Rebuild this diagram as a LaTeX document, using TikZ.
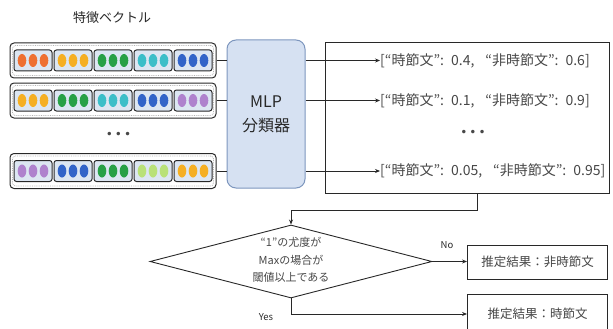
\documentclass[tikz,border=0pt]{standalone}
\usepackage{fontspec}
\setmainfont{Noto Sans CJK JP}
\newfontfamily\dvfont{DejaVu Sans}
\usetikzlibrary{shapes.geometric,arrows.meta}
\definecolor{dorange}{RGB}{238,112,50}
\definecolor{dyellow}{RGB}{245,175,35}
\definecolor{dgreen}{RGB}{40,160,70}
\definecolor{dteal}{RGB}{60,190,200}
\definecolor{dblue}{RGB}{50,100,200}
\definecolor{dpurple}{RGB}{175,130,205}
\definecolor{dlgreen}{RGB}{185,225,120}
\definecolor{cellfill}{RGB}{220,230,242}
\definecolor{mlpfill}{RGB}{214,225,242}
\definecolor{mlpdraw}{RGB}{125,150,190}
\definecolor{ink}{RGB}{40,40,40}
\definecolor{soft}{RGB}{70,70,70}
\newcommand{\featrow}[3]{%
  \node[outerbox] (#1) at (113,#2) {};
  \node[innerdots] (#1d) at (113,#2) {};
  \foreach \c [count=\i from 0] in {#3} {
    \node[cellbox] (#1c\i) at (33+40*\i,#2) {};
    \foreach \k in {-1,0,1} \fill[\c] (33+40*\i+11*\k,#2) ellipse (4.3pt and 6.5pt);
  }%
}
\newcommand{\probs}[2]{[“時節文”:\hspace{7pt}#1,\hspace{11pt}“非時節文”:\hspace{7pt}#2]}
\tikzset{
  outerbox/.style={draw=ink, line width=1pt, rounded corners=4pt, minimum width=206pt, minimum height=35pt, inner sep=0pt},
  innerdots/.style={draw=gray!60, densely dotted, line width=0.8pt, rounded corners=3pt, minimum width=201pt, minimum height=30pt, inner sep=0pt},
  cellbox/.style={draw=ink, fill=cellfill, line width=1pt, rounded corners=2.5pt, minimum width=38pt, minimum height=21pt, inner sep=0pt},
  conn/.style={draw=ink, line width=0.8pt},
  arr/.style={conn, -{Stealth[length=5pt,width=4pt]}},
  box/.style={draw=ink, line width=0.9pt, inner sep=0pt},
  txt/.style={font=\fontsize{14}{16}\selectfont, text=soft, inner sep=0pt},
  btxt/.style={font=\fontsize{12.5}{15}\selectfont, text=soft, inner sep=0pt},
  dotstxt/.style={font=\dvfont\fontsize{12}{14}\selectfont, text=ink!85, inner sep=0pt},
}
\begin{document}
\begin{tikzpicture}[x=1pt,y=-1pt]
\useasboundingbox (0,0) rectangle (613,329);
\node[font=\fontsize{13}{15}\selectfont, text=ink] (title) at (112,18) {特徴ベクトル};
\featrow{r1}{60.5}{dorange,dyellow,dgreen,dteal,dblue}
\featrow{r2}{100.5}{dyellow,dgreen,dteal,dblue,dpurple}
\featrow{r3}{171}{dpurple,dblue,dgreen,dlgreen,dyellow}
\node[dotstxt] (vdots) at (118.5,135) {•\,•\,•};
\node[draw=mlpdraw, fill=mlpfill, line width=1pt, rounded corners=9pt, minimum width=78pt, minimum height=148pt, align=center, font=\fontsize{16}{24}\selectfont, text=ink] (mlp) at (266,114) {MLP\\分類器};
\draw[conn] (r1.east) -- (r1.east -| mlp.west);
\draw[conn] (r2.east) -- (r2.east -| mlp.west);
\draw[conn] (r3.east) -- (r3.east -| mlp.west);
\node[box, minimum width=284pt, minimum height=151pt] (out) at (467,117.5) {};
\node[txt, anchor=west] (t1) at (380,60.5) {\probs{0.4}{0.6}};
\node[txt, anchor=west] (t2) at (380,100.5) {\probs{0.1}{0.9}};
\node[txt, anchor=west] (t3) at (380,171) {\probs{0.05}{0.95}};
\node[dotstxt] (odots) at (473,133) {•\,•\,•};
\draw[arr] (t1.west -| mlp.east) -- (t1.west);
\draw[arr] (t2.west -| mlp.east) -- (t2.west);
\draw[arr] (t3.west -| mlp.east) -- (t3.west);
\node[diamond, draw=ink, line width=0.9pt, minimum width=282pt, minimum height=73pt, inner sep=0pt] (dia) at (291,261.5) {};
\node[align=center, font=\fontsize{11}{17.5}\selectfont, text=soft, inner sep=0pt] (diatext) at (291,260) {“1”の尤度が\\Maxの場合が\\閾値以上である};
\coordinate (bend) at (477,210);
\draw[arr] (out.south -| bend) |- (dia.north |- bend) -- (dia.north);
\node[box, minimum width=140pt, minimum height=34pt, btxt] (nb) at (537.5,262) {推定結果：非時節文};
\node[box, minimum width=140pt, minimum height=40pt, btxt] (yb) at (537.5,314) {推定結果：時節文};
\draw[arr] (dia.east) -- (nb.west |- dia.east);
\draw[arr] (dia.south) |- (yb.west);
\node[font=\fontsize{9.5}{11}\selectfont, text=ink] (no) at (447,245) {No};
\node[font=\fontsize{9.5}{11}\selectfont, text=ink] (yes) at (266,317) {Yes};
\end{tikzpicture}
\end{document}
